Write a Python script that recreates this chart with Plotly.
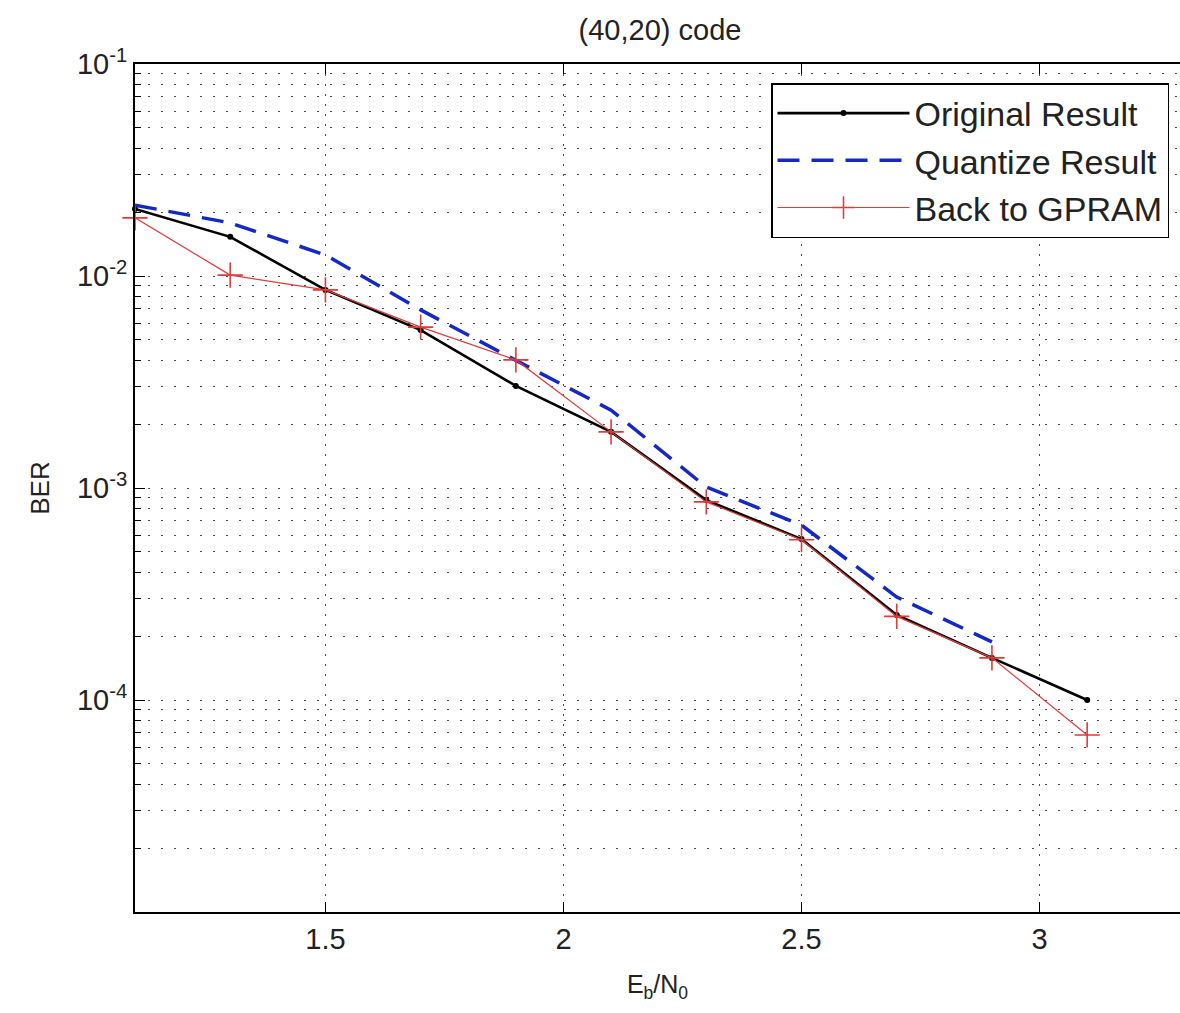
import plotly.graph_objects as go

# ---- data ----
ebn0 = [1.1, 1.3, 1.5, 1.7, 1.9, 2.1, 2.3, 2.5, 2.7, 2.9, 3.1]
original_ber = [0.0207, 0.0153, 0.0086, 0.00556, 0.00303, 0.00184, 0.000877, 0.000574, 0.000252, 0.000158, 0.000100]
ebn0_quant = [1.1, 1.3, 1.5, 1.7, 1.9, 2.1, 2.3, 2.5, 2.7, 2.9]
quantize_ber = [0.0216, 0.0178, 0.01256, 0.00692, 0.00400, 0.00233, 0.00101, 0.000668, 0.000306, 0.000188]
gpram_ber = [0.0188, 0.0101, 0.0086, 0.00574, 0.00402, 0.00184, 0.000860, 0.000570, 0.000248, 0.000158, 0.0000684]

y_tickvals = [1e-4, 1e-3, 1e-2, 1e-1]
y_ticktext = ["10<sup>-4</sup>", "10<sup>-3</sup>", "10<sup>-2</sup>", "10<sup>-1</sup>"]
x_tickvals = [1.5, 2, 2.5, 3]
x_ticktext = ["1.5", "2", "2.5", "3"]

FONT = "Liberation Sans, Arial, sans-serif"
TXT = "#222222"
GRID = "#4a4a4a"

fig = go.Figure()
fig.add_trace(go.Scatter(
    x=ebn0, y=original_ber, name="Original Result", mode="lines+markers",
    line=dict(color="black", width=2.6),
    marker=dict(symbol="circle", size=6, color="black"),
    legendgroup="a", cliponaxis=False,
))
fig.add_trace(go.Scatter(
    x=ebn0_quant, y=quantize_ber, name="Quantize Result", mode="lines",
    line=dict(color="#1428c8", width=3.5, dash="22px,12px"),
    legendgroup="b", cliponaxis=False,
))
fig.add_trace(go.Scatter(
    x=ebn0, y=gpram_ber, name="Back to GPRAM", mode="lines+markers",
    line=dict(color="#e03a3a", width=1.2),
    marker=dict(symbol="cross-thin", size=18, color="#e03a3a",
                line=dict(color="#e03a3a", width=1.6)),
    legendgroup="c", cliponaxis=False,
))

fig.update_layout(
    width=1180, height=1013,
    margin=dict(l=135, r=0, t=64, b=101),
    paper_bgcolor="white", plot_bgcolor="white",
    font=dict(family=FONT, color=TXT, size=26),
    title=dict(text="(40,20) code", x=(135 + 1185) / 2 / 1180, xanchor="center",
               y=1 - 30 / 1013, yanchor="middle", yref="container",
               font=dict(size=29, color=TXT, family=FONT)),
    showlegend=True,
    legend=dict(
        x=(1169 - 135) / 1045, xanchor="right",
        y=(912 - 83) / 848, yanchor="top",
        bgcolor="white", bordercolor="black", borderwidth=1.5,
        font=dict(size=34, color=TXT, family=FONT),
        itemwidth=132, tracegroupgap=0, traceorder="grouped",
    ),
)

fig.update_xaxes(
    type="linear", range=[1.1, 3.295],
    tickmode="array", tickvals=x_tickvals, ticktext=x_ticktext,
    ticks="inside", ticklen=10, tickcolor="black", tickwidth=1.2,
    showline=True, linecolor="black", linewidth=2, mirror="ticks",
    showgrid=True, gridcolor=GRID, gridwidth=1, griddash="2px,8px",
    zeroline=False,
    tickfont=dict(size=29, color=TXT, family=FONT),
    title=dict(text="E<sub>b</sub>/N<sub>0</sub>", standoff=22,
               font=dict(size=25, color=TXT, family=FONT)),
)

fig.update_yaxes(
    type="log", range=[-5, -1],
    tickmode="array", tickvals=y_tickvals, ticktext=y_ticktext,
    ticks="inside", ticklen=10, tickcolor="black", tickwidth=1.2,
    showline=True, linecolor="black", linewidth=2, mirror=False,
    showgrid=True, gridcolor=GRID, gridwidth=1, griddash="2px,11px",
    zeroline=False,
    tickfont=dict(size=29, color=TXT, family=FONT),
    minor=dict(dtick="D1", ticks="inside", ticklen=6, tickcolor="black",
               showgrid=True, gridcolor=GRID, gridwidth=1, griddash="2px,11px"),
    title=dict(text="BER", standoff=20,
               font=dict(size=26, color=TXT, family=FONT)),
)

fig.write_html("out.html")
